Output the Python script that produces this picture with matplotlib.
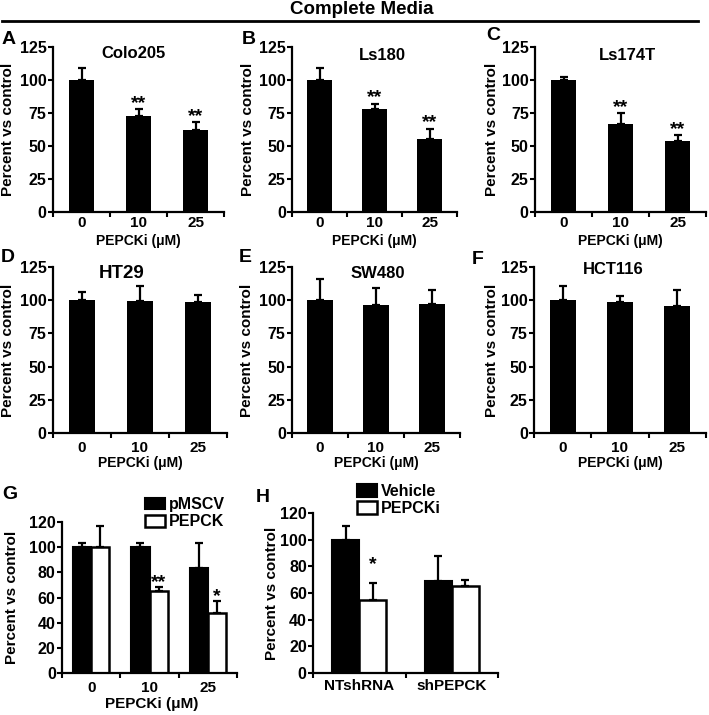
import matplotlib
matplotlib.use("Agg")
import matplotlib.pyplot as plt
from matplotlib.patches import Patch
import numpy as np

plt.rcParams['font.family'] = ['Liberation Sans', 'DejaVu Sans']
plt.rcParams['font.weight'] = 'bold'

W, H = 709, 715

# ---------------- data ----------------
doses = ["0", "10", "25"]

colo205_mean = [100, 73, 62]
colo205_err = [9, 5, 6]
ls180_mean = [100, 78, 55]
ls180_err = [9, 4, 8]
ls174t_mean = [100, 67, 54]
ls174t_err = [2, 8, 4]
ht29_mean = [100, 99.5, 99]
ht29_err = [6, 11, 5]
sw480_mean = [100, 96.5, 97.5]
sw480_err = [16, 12.5, 10.5]
hct116_mean = [100, 98.5, 95.5]
hct116_err = [11, 5, 12]

g_labels = ["pMSCV", "PEPCK"]
g_pmscv_mean = [100, 100, 83.5]
g_pmscv_err = [3, 3, 20]
g_pepck_mean = [100, 65, 47.5]
g_pepck_err = [17, 3.5, 10]

h_groups = ["NTshRNA", "shPEPCK"]
h_labels = ["Vehicle", "PEPCKi"]
h_vehicle_mean = [100, 69]
h_vehicle_err = [10, 19]
h_pepcki_mean = [55, 65]
h_pepcki_err = [12.5, 5]

sig_A = ["", "**", "**"]
sig_B = ["", "**", "**"]
sig_C = ["", "**", "**"]
sig_G = ["", "**", "*"]
sig_H = ["*", ""]

fig = plt.figure(figsize=(W / 100, H / 100), dpi=100)

TICK_Y = 11.5
TICK_X = 11


def axes_px(x0, x1, ytop, ybot):
    return fig.add_axes([x0 / W, 1 - ybot / H, (x1 - x0) / W, (ybot - ytop) / H])


def style_axes(ax, ncat, ymax, ystep, xpad):
    for s in ['top', 'right']:
        ax.spines[s].set_visible(False)
    for s in ['left', 'bottom']:
        ax.spines[s].set_linewidth(1.6)
    ax.set_xlim(-0.5, ncat - 0.5)
    ax.set_ylim(0, ymax)
    ax.set_yticks(np.arange(0, ymax + 1, ystep))
    ax.tick_params(axis='y', direction='out', length=3.5, width=1.5, pad=1, labelsize=TICK_Y)
    ax.set_xticks(np.arange(ncat))
    ax.tick_params(axis='x', which='major', length=0, pad=xpad, labelsize=TICK_X)
    ax.set_xticks(np.arange(ncat + 1) - 0.5, minor=True)
    ax.tick_params(axis='x', which='minor', direction='out', length=3.5, width=1.5)
    for lab in ax.get_xticklabels() + ax.get_yticklabels():
        lab.set_fontweight('bold')


def fig_text(x, y, s, size, ha='center', va='center', rot=0):
    fig.text(x / W, 1 - y / H, s, fontsize=size, fontweight='bold',
             ha=ha, va=va, rotation=rot)


def single_panel(rect, means, errs, title, title_xy, title_size, letter, letter_xy,
                 ylab_x, xlab_y, xpad, sig=None):
    ax = axes_px(*rect)
    x = np.arange(len(doses))
    ax.bar(x, means, width=0.45, color='black', zorder=2)
    ax.errorbar(x, means, yerr=[np.zeros(len(errs)), errs], fmt='none', ecolor='black',
                elinewidth=1.6, capsize=3, capthick=1.6, zorder=3)
    style_axes(ax, len(doses), 125, 25, xpad)
    ax.set_xticklabels(doses)
    if sig:
        for xi, m, e, s in zip(x, means, errs, sig):
            if s:
                ax.annotate(s, (xi, m + e), xytext=(0, 1.0), textcoords='offset points',
                            ha='center', va='baseline', fontsize=14, fontweight='bold')
    fig_text(title_xy[0], title_xy[1], title, title_size)
    fig_text(letter_xy[0], letter_xy[1], letter, 14, ha='left', va='top')
    fig_text(ylab_x, (rect[2] + rect[3]) / 2, "Percent vs control", 11, rot=90)
    fig_text((rect[0] + rect[1]) / 2, xlab_y, "PEPCKi (μM)", 10)
    return ax


# Header
fig_text(362, 9, "Complete Media", 13.5)
fig.add_artist(plt.Line2D([2 / W, 698 / W], [1 - 21 / H, 1 - 21 / H], color='black', lw=2))

# Row 1
single_panel((53, 224, 47, 212), colo205_mean, colo205_err, "Colo205", (133, 54), 12,
             "A", (2, 31), 8, 241, 3, sig_A)
single_panel((292, 457, 47, 212), ls180_mean, ls180_err, "Ls180", (382, 55), 12,
             "B", (242, 31), 248, 241, 3, sig_B)
single_panel((535, 706, 47, 212), ls174t_mean, ls174t_err, "Ls174T", (627, 55), 12,
             "C", (486, 27), 492, 241, 3, sig_C)

# Row 2
single_panel((53, 227, 267, 433), ht29_mean, ht29_err, "HT29", (122, 273), 13.5,
             "D", (1, 249), 8, 463, 6)
single_panel((292, 460, 267, 433), sw480_mean, sw480_err, "SW480", (378, 273), 12,
             "E", (239, 249), 247, 463, 6)
single_panel((534, 706, 267, 433), hct116_mean, hct116_err, "HCT116", (613, 269), 12,
             "F", (472, 251), 492, 463, 6)

# Panel G
axG = axes_px(62, 237, 522, 673)
xg = np.arange(len(doses))
bw = 0.31
axG.bar(xg - bw / 2, g_pmscv_mean, width=bw, color='black', edgecolor='black', lw=1.5,
        zorder=2, label=g_labels[0])
axG.bar(xg + bw / 2, g_pepck_mean, width=bw, color='white', edgecolor='black', lw=1.8,
        zorder=2, label=g_labels[1])
axG.errorbar(xg - bw / 2, g_pmscv_mean, yerr=[np.zeros(3), g_pmscv_err], fmt='none',
             ecolor='black', elinewidth=1.6, capsize=3, capthick=1.6, zorder=3)
axG.errorbar(xg + bw / 2, g_pepck_mean, yerr=[np.zeros(3), g_pepck_err], fmt='none',
             ecolor='black', elinewidth=1.6, capsize=3, capthick=1.6, zorder=3)
style_axes(axG, 3, 120, 20, 5.5)
axG.set_xticklabels(doses)
for xi, m, e, s in zip(xg + bw / 2, g_pepck_mean, g_pepck_err, sig_G):
    if s:
        axG.annotate(s, (xi, m + e), xytext=(0, 0), textcoords='offset points',
                     ha='center', va='baseline', fontsize=14, fontweight='bold')
fig_text(12, 597, "Percent vs control", 11, rot=90)
fig_text(152, 704, "PEPCKi (μM)", 11)
fig_text(2, 486, "G", 14, ha='left', va='top')
axG.legend(handles=[Patch(facecolor='black', edgecolor='black', lw=1.5),
                    Patch(facecolor='white', edgecolor='black', lw=1.8)],
           labels=g_labels, loc='upper left',
           bbox_to_anchor=(145 / W, 1 - 497 / H), bbox_transform=fig.transFigure,
           frameon=False, fontsize=11.5, handlelength=1.25, handleheight=0.75,
           handletextpad=0.25, labelspacing=0.15, borderpad=0, borderaxespad=0)

# Panel H
axH = axes_px(313, 498, 513, 673)
xh = np.arange(len(h_groups))
bw = 0.29
axH.bar(xh - bw / 2, h_vehicle_mean, width=bw, color='black', edgecolor='black', lw=1.5,
        zorder=2)
axH.bar(xh + bw / 2, h_pepcki_mean, width=bw, color='white', edgecolor='black', lw=1.8,
        zorder=2)
axH.errorbar(xh - bw / 2, h_vehicle_mean, yerr=[np.zeros(2), h_vehicle_err], fmt='none',
             ecolor='black', elinewidth=1.6, capsize=3, capthick=1.6, zorder=3)
axH.errorbar(xh + bw / 2, h_pepcki_mean, yerr=[np.zeros(2), h_pepcki_err], fmt='none',
             ecolor='black', elinewidth=1.6, capsize=3, capthick=1.6, zorder=3)
style_axes(axH, 2, 120, 20, 4)
axH.set_xticklabels(h_groups)
for xi, m, e, s in zip(xh + bw / 2, h_pepcki_mean, h_pepcki_err, sig_H):
    if s:
        axH.annotate(s, (xi, m + e), xytext=(0, 10), textcoords='offset points',
                     ha='center', va='baseline', fontsize=14, fontweight='bold')
fig_text(272, 593, "Percent vs control", 11, rot=90)
fig_text(256, 489, "H", 14, ha='left', va='top')
axH.legend(handles=[Patch(facecolor='black', edgecolor='black', lw=1.5),
                    Patch(facecolor='white', edgecolor='black', lw=1.8)],
           labels=h_labels, loc='upper left',
           bbox_to_anchor=(357 / W, 1 - 484 / H), bbox_transform=fig.transFigure,
           frameon=False, fontsize=11.5, handlelength=1.25, handleheight=0.85,
           handletextpad=0.25, labelspacing=0.15, borderpad=0, borderaxespad=0)

fig.savefig("out.png", dpi=100)
